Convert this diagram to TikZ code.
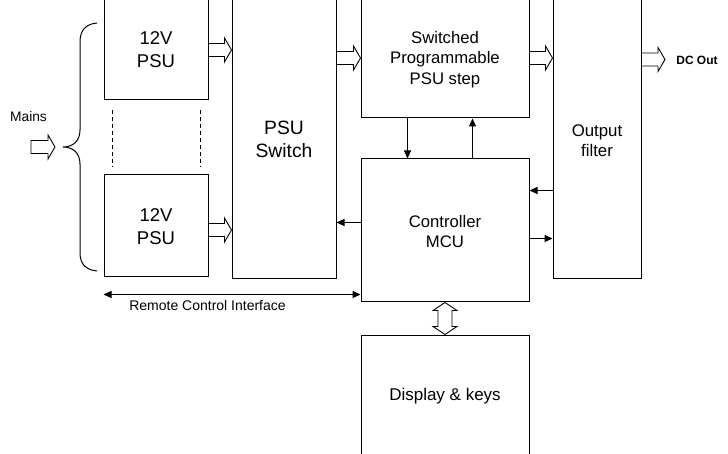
\documentclass[tikz,border=0pt]{standalone}
\usepackage{fontspec}
\setmainfont{Liberation Sans}
\usetikzlibrary{fit,calc,arrows.meta}
\tikzset{
  box/.style={draw=black, line width=1pt, fill=white, inner sep=0pt},
  lbl/.style={align=center, inner sep=0pt},
  sig/.style={line width=1pt, -{Triangle[length=8pt,width=7pt]}},
  sigboth/.style={line width=1pt, {Triangle[length=8pt,width=7pt]}-{Triangle[length=8pt,width=7pt]}},
  blk/.style={draw=black, line width=0.9pt, fill=white, line join=miter},
  dsh/.style={line width=0.9pt, dash pattern=on 4pt off 3pt},
}
\newcommand\hollowR[3]{\path[blk] let \p1=(#1), \p2=(#2), \n1={-#3pt} in
  (\x1,\n1+6.5pt) -- (\x2-7pt,\n1+6.5pt) -- (\x2-7pt,\n1+12pt) -- (\x2,\n1)
  -- (\x2-7pt,\n1-12pt) -- (\x2-7pt,\n1-6.5pt) -- (\x1,\n1-6.5pt) -- cycle;}
\newcommand\hollowV[3]{\path[blk] let \p1=(#1), \p2=(#2), \n1={#3pt} in
  (\n1,\y1) -- (\n1+12pt,\y1-8pt) -- (\n1+7pt,\y1-8pt) -- (\n1+7pt,\y2+8pt)
  -- (\n1+12pt,\y2+8pt) -- (\n1,\y2) -- (\n1-12pt,\y2+8pt) -- (\n1-7pt,\y2+8pt)
  -- (\n1-7pt,\y1-8pt) -- (\n1-12pt,\y1-8pt) -- cycle;}
\begin{document}
\begin{tikzpicture}[x=1pt,y=-1pt]
\useasboundingbox (0,0) rectangle (728,454);
\fill[white] (0,0) rectangle (728,454);
% boxes
\node[box, fit={(104,-10)(208,100)}] (p1) {};
\node[box, fit={(104,175)(208,277)}] (p2) {};
\node[box, fit={(232,-10)(336,279)}] (sw) {};
\node[box, fit={(361,-10)(529,118)}] (sp) {};
\node[box, fit={(361,159)(529,302)}] (mcu) {};
\node[box, fit={(553,-10)(641,279)}] (of) {};
\node[box, fit={(361,335)(529,470)}] (dk) {};
% texts
\node[lbl, font=\fontsize{18.5}{23}\selectfont] (t1) at (156,50) {12V\\PSU};
\node[lbl, font=\fontsize{18.5}{23}\selectfont] (t2) at (156,227) {12V\\PSU};
\node[lbl, font=\fontsize{19.3}{23}\selectfont] (t3) at (284,139) {PSU\\Switch};
\node[lbl, font=\fontsize{16.7}{20.5}\selectfont] (t4) at (445,59.5) {Switched\\Programmable\\PSU step};
\node[lbl, font=\fontsize{16.8}{20}\selectfont] (t5) at (597,141) {Output\\filter};
\node[lbl, font=\fontsize{16.7}{20}\selectfont] (t6) at (445,232) {Controller\\MCU};
\node[lbl, font=\fontsize{17}{20}\selectfont] (t7) at (445,396) {Display \& keys};
\node[lbl, font=\fontsize{13.8}{15}\selectfont] (mains) at (28.5,117) {Mains};
\node[lbl, font=\fontsize{14}{15}\selectfont] (rci) at (207.5,305.5) {Remote Control Interface};
\node[lbl, font=\bfseries\fontsize{12}{14}\selectfont] (dc) at (697,60) {DC Out};
% brace
\coordinate (bt) at (63,147);
\draw[line width=1pt] (97,23) .. controls (86,24) and (80,30) .. (80,42) -- (80,130)
  .. controls (80,141) and (73,147) .. (bt) .. controls (73,147) and (80,153) .. (80,164)
  -- (80,253) .. controls (80,264) and (86,270) .. (97,271);
% dashed
\coordinate (d1a) at (112,110); \coordinate (d1b) at (112,167);
\coordinate (d2a) at (200,110); \coordinate (d2b) at (200,167);
\draw[dsh] (d1a) -- (d1b);
\draw[dsh] (d2a) -- (d2b);
% hollow arrows
\coordinate (mA) at (31,147); \coordinate (mB) at (55,147);
\coordinate (dcA) at (665,59);
\hollowR{mA}{mB}{147}
\hollowR{p1.east}{sw.west}{50}
\hollowR{p2.east}{sw.west}{230}
\hollowR{sw.east}{sp.west}{58}
\hollowR{sp.east}{of.west}{58}
\hollowR{of.east}{dcA}{59.5}
\hollowV{mcu.south}{dk.north}{445}
% thin arrows
\coordinate (a1) at ($(sp.south west)+(47,0)$);
\coordinate (a2) at ($(sp.south west)+(112,0)$);
\draw[sig] (a1) -- (a1 |- mcu.north);
\draw[sig] (a2 |- mcu.north) -- (a2);
\coordinate (a3) at ($(mcu.north west)+(0,64)$);
\draw[sig] (a3) -- (a3 -| sw.east);
\coordinate (a4) at ($(mcu.north east)+(0,32)$);
\draw[sig] (a4 -| of.west) -- (a4);
\coordinate (a5) at ($(mcu.north east)+(0,80)$);
\draw[sig] (a5) -- (a5 -| of.west);
\coordinate (a6) at ($(mcu.north west)+(0,136)$);
\draw[sigboth] (a6 -| p2.west) -- (a6);
\end{tikzpicture}
\end{document}
